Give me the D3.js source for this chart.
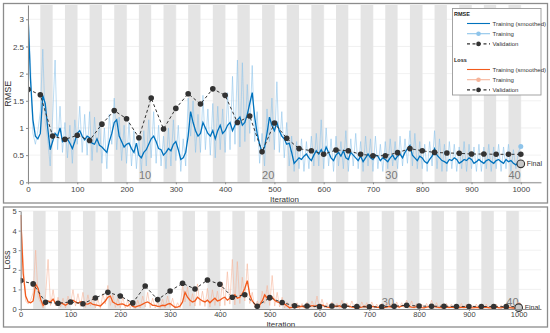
<!DOCTYPE html>
<html><head><meta charset="utf-8">
<script src="https://cdn.jsdelivr.net/npm/d3@7"></script>
<style>body{margin:0;background:#fff}svg{display:block;font-family:Arial,"Liberation Sans",sans-serif}</style>
</head><body><svg id="c" width="550" height="333"></svg>
<script>
// ---------- data ----------
const trainStep = 5, valStep = 25, itersPerEpoch = 25, numEpochs = 40;

const rmseTrain = [
3.10,2.20,0.90,0.70,0.95,1.30,2.45,1.10,0.80,0.30,
1.20,2.25,0.60,1.40,0.55,1.10,0.45,1.05,0.35,1.15,
0.70,1.40,0.55,1.25,0.50,1.30,0.40,1.20,0.55,1.10,
0.35,1.00,0.25,1.25,0.70,1.55,0.60,1.20,0.40,1.05,
0.35,1.10,0.30,0.95,0.25,0.85,0.20,0.95,0.30,1.15,
0.45,1.30,0.35,1.05,0.30,0.85,0.25,1.00,0.30,1.15,
0.40,1.05,0.20,0.80,0.30,1.55,0.85,1.50,0.55,1.25,
0.55,1.60,0.60,1.35,0.50,1.45,0.45,1.40,0.60,1.35,
0.55,1.65,0.60,1.95,0.70,2.25,0.65,2.20,0.75,1.80,
0.90,2.15,0.75,1.30,0.35,0.90,0.30,1.35,0.75,1.55,
0.60,1.85,0.55,1.30,0.45,1.10,0.30,0.85,0.20,0.75,
0.25,0.80,0.20,0.75,0.25,0.85,0.30,0.90,0.30,1.15,
0.25,1.00,0.30,0.80,0.20,0.85,0.30,0.75,0.25,0.95,
0.20,0.80,0.30,0.90,0.25,0.75,0.20,0.85,0.30,0.80,
0.20,0.85,0.25,0.70,0.20,0.75,0.25,0.80,0.30,0.75,
0.25,0.85,0.30,0.80,0.35,0.95,0.30,0.90,0.25,0.75,
0.25,0.70,0.20,0.75,0.30,0.95,0.25,0.80,0.20,0.70,
0.20,0.75,0.25,0.70,0.20,0.65,0.25,0.75,0.20,0.70,
0.25,0.65,0.20,0.70,0.20,0.65,0.25,0.70,0.20,0.65,
0.25,0.70,0.20,0.65,0.25,0.70,0.20,0.60,0.25,0.55,
0.66];

const rmseSmooth = [
3.10,1.90,1.15,0.85,0.80,0.90,1.60,1.45,1.00,0.60,
0.75,0.90,0.85,1.00,0.75,0.80,0.80,0.72,0.62,0.75,
0.90,0.95,0.85,0.78,0.85,0.82,0.72,0.70,0.80,0.68,
0.65,0.60,0.55,0.75,0.90,1.10,1.15,0.85,0.75,0.65,
0.70,0.72,0.62,0.55,0.72,0.50,0.45,0.55,0.60,0.70,
0.80,0.85,0.75,0.62,0.60,0.50,0.55,0.62,0.58,0.70,
0.75,0.60,0.42,0.45,0.55,0.85,1.30,1.10,0.95,0.85,
0.90,1.10,1.00,0.90,0.85,0.95,0.80,0.95,1.05,0.90,
0.95,1.05,1.10,0.95,1.05,1.15,1.20,1.05,1.10,1.25,
1.45,1.65,1.20,0.90,0.70,0.55,0.65,0.90,1.20,1.05,
0.95,1.10,0.95,0.85,0.80,0.70,0.72,0.55,0.35,0.40,
0.45,0.42,0.48,0.52,0.45,0.40,0.50,0.58,0.52,0.60,
0.50,0.65,0.55,0.45,0.40,0.50,0.55,0.48,0.58,0.45,
0.42,0.55,0.50,0.45,0.40,0.48,0.38,0.45,0.52,0.45,
0.42,0.50,0.48,0.40,0.45,0.42,0.38,0.45,0.50,0.42,
0.48,0.52,0.45,0.55,0.62,0.68,0.50,0.45,0.40,0.48,
0.45,0.38,0.35,0.42,0.48,0.62,0.50,0.45,0.40,0.38,
0.35,0.42,0.40,0.45,0.42,0.35,0.38,0.42,0.40,0.45,
0.42,0.35,0.38,0.42,0.38,0.35,0.40,0.42,0.38,0.35,
0.40,0.42,0.38,0.35,0.42,0.38,0.40,0.35,0.32,0.36,
0.38];

const rmseVal = [1.71,1.61,0.85,0.79,0.865,0.77,1.07,1.32,1.17,0.82,1.55,0.98,1.36,1.63,1.44,1.72,1.60,1.10,1.22,0.56,
1.09,0.81,0.62,0.58,0.515,0.595,0.58,0.515,0.49,0.49,0.546,0.62,0.58,0.55,0.54,0.534,0.52,0.52,0.515,0.515,0.515];

const lossTrain = [
4.80,2.42,0.41,0.25,0.45,0.85,3.00,0.60,0.32,0.05,
0.72,2.53,0.18,0.98,0.15,0.60,0.10,0.55,0.06,0.66,
0.25,0.98,0.15,0.78,0.13,0.85,0.08,0.72,0.15,0.60,
0.06,0.50,0.03,0.78,0.25,1.20,0.18,0.72,0.08,0.55,
0.06,0.60,0.05,0.45,0.03,0.36,0.02,0.45,0.05,0.66,
0.10,0.85,0.06,0.55,0.05,0.36,0.03,0.50,0.05,0.66,
0.08,0.55,0.02,0.32,0.05,1.20,0.36,1.13,0.15,0.78,
0.15,1.28,0.18,0.91,0.13,1.05,0.10,0.98,0.18,0.91,
0.15,1.36,0.18,1.90,0.25,2.53,0.21,2.42,0.28,1.62,
0.41,2.31,0.28,0.85,0.06,0.41,0.05,0.91,0.28,1.20,
0.18,1.71,0.15,0.85,0.10,0.60,0.05,0.36,0.02,0.28,
0.03,0.32,0.02,0.28,0.03,0.36,0.05,0.41,0.05,0.66,
0.03,0.50,0.05,0.32,0.02,0.36,0.05,0.28,0.03,0.45,
0.02,0.32,0.05,0.41,0.03,0.28,0.02,0.36,0.05,0.32,
0.02,0.36,0.03,0.25,0.02,0.28,0.03,0.32,0.05,0.28,
0.03,0.36,0.05,0.32,0.06,0.45,0.05,0.41,0.03,0.28,
0.03,0.25,0.02,0.28,0.05,0.45,0.03,0.32,0.02,0.25,
0.02,0.28,0.03,0.25,0.02,0.21,0.03,0.28,0.02,0.25,
0.03,0.21,0.02,0.25,0.02,0.21,0.03,0.25,0.02,0.21,
0.03,0.25,0.02,0.21,0.03,0.25,0.02,0.18,0.03,0.15,
0.22];

const lossSmooth = [
4.80,1.81,0.66,0.36,0.32,0.41,1.28,1.05,0.50,0.18,
0.28,0.41,0.36,0.50,0.28,0.32,0.32,0.26,0.19,0.28,
0.41,0.45,0.36,0.30,0.36,0.34,0.26,0.25,0.32,0.23,
0.21,0.18,0.15,0.28,0.41,0.60,0.66,0.36,0.28,0.21,
0.25,0.26,0.19,0.15,0.26,0.13,0.10,0.15,0.18,0.25,
0.32,0.36,0.28,0.19,0.18,0.13,0.15,0.19,0.17,0.25,
0.28,0.18,0.09,0.10,0.15,0.36,0.85,0.60,0.45,0.36,
0.41,0.60,0.50,0.41,0.36,0.45,0.32,0.45,0.55,0.41,
0.45,0.55,0.60,0.45,0.55,0.66,0.72,0.55,0.60,0.78,
1.05,1.45,0.72,0.41,0.25,0.15,0.21,0.41,0.72,0.55,
0.45,0.60,0.45,0.36,0.32,0.25,0.26,0.15,0.06,0.08,
0.10,0.09,0.12,0.14,0.10,0.08,0.13,0.17,0.14,0.18,
0.13,0.21,0.15,0.10,0.08,0.13,0.15,0.12,0.17,0.10,
0.09,0.15,0.13,0.10,0.08,0.12,0.07,0.10,0.14,0.10,
0.09,0.13,0.12,0.08,0.10,0.09,0.07,0.10,0.13,0.09,
0.12,0.14,0.10,0.15,0.19,0.23,0.13,0.10,0.08,0.12,
0.10,0.07,0.06,0.09,0.12,0.19,0.13,0.10,0.08,0.07,
0.06,0.09,0.08,0.10,0.09,0.06,0.07,0.09,0.08,0.10,
0.09,0.06,0.07,0.09,0.07,0.06,0.08,0.09,0.07,0.06,
0.08,0.09,0.07,0.06,0.09,0.07,0.08,0.06,0.05,0.06,
0.07];

const lossVal = [1.45,1.28,0.34,0.29,0.36,0.27,0.56,0.85,0.66,0.31,1.17,0.48,0.92,1.31,1.02,1.48,1.26,0.60,0.73,0.14,
0.58,0.33,0.16,0.15,0.12,0.15,0.15,0.12,0.11,0.11,0.14,0.19,0.15,0.14,0.14,0.13,0.13,0.13,0.12,0.12,0.12];

const rmseFinal = 0.34, lossFinal = 0.07;
const xTicks = [0,100,200,300,400,500,600,700,800,900,1000];
const rmseTicks = [0,0.5,1,1.5,2,2.5,3];
const lossTicks = [0,1,2,3,4,5];
const epochLabelsTop = [10,20,30,40];
const epochLabelsBottom = [30,40];

// ---------- drawing ----------
const svg = d3.select('#c');
const trainIter = rmseTrain.map((_, i) => i * trainStep);
const valIter = rmseVal.map((_, i) => i * valStep);
const shadedEpochs = d3.range(2, numEpochs + 1, 2);

function drawPanel(o) {
  const x = d3.scaleLinear().domain([0, o.xMax]).range([o.x0, o.x1]);
  const y = d3.scaleLinear().domain([0, o.yMax]).range([o.y0, o.y1]);
  const g = svg.append('g');
  const clipId = 'clip' + o.id;
  svg.append('clipPath').attr('id', clipId).append('rect')
    .attr('x', o.x0).attr('y', o.y1).attr('width', o.x1 - o.x0).attr('height', o.y0 - o.y1);

  // grid
  g.append('g').selectAll('line').data(o.yTicks).join('line')
    .attr('x1', o.x0).attr('x2', o.x1).attr('y1', d => y(d)).attr('y2', d => y(d))
    .attr('stroke', '#ebebeb').attr('stroke-width', 0.7);
  g.append('g').selectAll('line').data(xTicks).join('line')
    .attr('x1', d => x(d)).attr('x2', d => x(d)).attr('y1', o.y0).attr('y2', o.y1)
    .attr('stroke', '#ebebeb').attr('stroke-width', 0.7);

  // epoch bands
  g.append('g').selectAll('rect').data(shadedEpochs).join('rect')
    .attr('x', e => x((e - 1) * itersPerEpoch)).attr('width', e => x(e * itersPerEpoch) - x((e - 1) * itersPerEpoch))
    .attr('y', o.y1).attr('height', o.y0 - o.y1).attr('fill', '#e4e4e4');

  // epoch labels
  g.append('g').selectAll('text').data(o.epochLabels).join('text')
    .attr('x', e => x((e - 0.5) * itersPerEpoch)).attr('y', o.epochY)
    .attr('text-anchor', 'middle').attr('font-size', 11).attr('fill', '#7a7a7a').text(d => d);

  const data = g.append('g').attr('clip-path', `url(#${clipId})`);
  const line = d3.line().x(d => x(d[0])).y(d => y(d[1]));
  data.append('path').datum(trainIter.map((t, i) => [t, o.raw[i]]))
    .attr('d', line).attr('fill', 'none').attr('stroke', o.rawColor).attr('stroke-width', 0.7).attr('opacity', 0.85);
  data.append('path').datum(trainIter.map((t, i) => [t, o.smooth[i]]))
    .attr('d', line).attr('fill', 'none').attr('stroke', o.smoothColor).attr('stroke-width', 1.3);
  data.append('path').datum(valIter.map((t, i) => [t, o.val[i]]))
    .attr('d', line).attr('fill', 'none').attr('stroke', '#333').attr('stroke-width', 1).attr('stroke-dasharray', '3,2.5');
  data.append('g').selectAll('circle').data(valIter.map((t, i) => [t, o.val[i]])).join('circle')
    .attr('cx', d => x(d[0])).attr('cy', d => y(d[1])).attr('r', 2.8).attr('fill', '#333');
  // last training marker
  data.append('circle').attr('cx', x(trainIter[trainIter.length - 1])).attr('cy', y(o.raw[o.raw.length - 1]))
    .attr('r', 2.5).attr('fill', o.rawColor);
  // final marker
  g.append('circle').attr('cx', x(1000)).attr('cy', y(o.final)).attr('r', 3.8)
    .attr('fill', '#c8c8c8').attr('stroke', '#333').attr('stroke-width', 1.1);
  g.append('text').attr('x', x(1000) + 6).attr('y', y(o.final) + 2.5).attr('font-size', 7).attr('fill', '#333').text('Final');

  // axes
  const ax = g.append('g').attr('transform', `translate(0,${o.y0})`)
    .call(d3.axisBottom(x).tickValues(xTicks).tickSize(2).tickSizeOuter(0).tickPadding(o.xPad).tickFormat(d => String(d)));
  const ay = g.append('g').attr('transform', `translate(${o.x0},0)`)
    .call(d3.axisLeft(y).tickValues(o.yTicks).tickSize(2).tickSizeOuter(0).tickPadding(2).tickFormat(d => String(d)));
  [ax, ay].forEach(a => {
    a.select('.domain').attr('stroke', '#8a8a8a');
    a.selectAll('.tick line').attr('stroke', '#8a8a8a');
    a.selectAll('text').attr('fill', '#444').attr('font-size', o.tickFont).attr('font-family', 'Arial,"Liberation Sans",sans-serif');
  });

  g.append('text').attr('x', (o.x0 + o.x1) / 2).attr('y', o.xLabelY).attr('text-anchor', 'middle')
    .attr('font-size', 8).attr('fill', '#333').text('Iteration');
  g.append('text').attr('transform', `translate(${o.yLabelX},${(o.y0 + o.y1) / 2}) rotate(-90)`)
    .attr('text-anchor', 'middle').attr('font-size', 9).attr('fill', '#333').text(o.yLabel);

  // panel frame
  svg.append('rect').attr('x', o.frame[0]).attr('y', o.frame[1]).attr('width', o.frame[2]).attr('height', o.frame[3])
    .attr('fill', 'none').attr('stroke', '#8c8c8c').attr('stroke-width', 1.3);
}

drawPanel({id: 'top', xMax: 1041, x0: 28, x1: 541, yMax: 3.263, y0: 182.3, y1: 5,
  yTicks: rmseTicks, raw: rmseTrain, smooth: rmseSmooth, val: rmseVal, final: rmseFinal,
  rawColor: '#8ec4ea', smoothColor: '#0072BD', epochLabels: epochLabelsTop, epochY: 178.5,
  xPad: 2, tickFont: 8, xLabelY: 202, yLabel: 'RMSE', yLabelX: 11, frame: [3.5, 3.5, 544, 199.5]});

drawPanel({id: 'bot', xMax: 1044.8, x0: 20.7, x1: 541, yMax: 5, y0: 309, y1: 211,
  yTicks: lossTicks, raw: lossTrain, smooth: lossSmooth, val: lossVal, final: lossFinal,
  rawColor: '#f6b49a', smoothColor: '#f25a1c', epochLabels: epochLabelsBottom, epochY: 306,
  xPad: 1, tickFont: 7.5, xLabelY: 326.5, yLabel: 'Loss', yLabelX: 10, frame: [3.5, 207, 544, 120]});

// legend
const legendGroups = [
  {title: 'RMSE', items: [
    {label: 'Training (smoothed)', color: '#0072BD', dash: null, marker: null},
    {label: 'Training', color: '#8ec4ea', dash: null, marker: '#8ec4ea'},
    {label: 'Validation', color: '#333', dash: '3,2.5', marker: '#333'}]},
  {title: 'Loss', items: [
    {label: 'Training (smoothed)', color: '#f25a1c', dash: null, marker: null},
    {label: 'Training', color: '#f6b49a', dash: null, marker: '#f6b49a'},
    {label: 'Validation', color: '#333', dash: '3,2.5', marker: '#333'}]}
];
const lg = svg.append('g');
lg.append('rect').attr('x', 452.5).attr('y', 8.5).attr('width', 88.5).attr('height', 86.5)
  .attr('fill', '#fff').attr('stroke', '#9a9a9a').attr('stroke-width', 0.9);
legendGroups.forEach((grp, gi) => {
  const gy = 13.5 + gi * 46;
  lg.append('text').attr('x', 454).attr('y', gy + 2).attr('font-size', 5.5).attr('font-weight', 'bold').attr('fill', '#222').text(grp.title);
  grp.items.forEach((it, ii) => {
    const iy = gy + 10 + ii * 10.2;
    lg.append('line').attr('x1', 467).attr('x2', 490).attr('y1', iy).attr('y2', iy)
      .attr('stroke', it.color).attr('stroke-width', 1.1).attr('stroke-dasharray', it.dash);
    if (it.marker) lg.append('circle').attr('cx', 478.5).attr('cy', iy).attr('r', 2.3).attr('fill', it.marker);
    lg.append('text').attr('x', 492.5).attr('y', iy + 2).attr('font-size', 6).attr('fill', '#333').text(it.label);
  });
});
</script></body></html>
